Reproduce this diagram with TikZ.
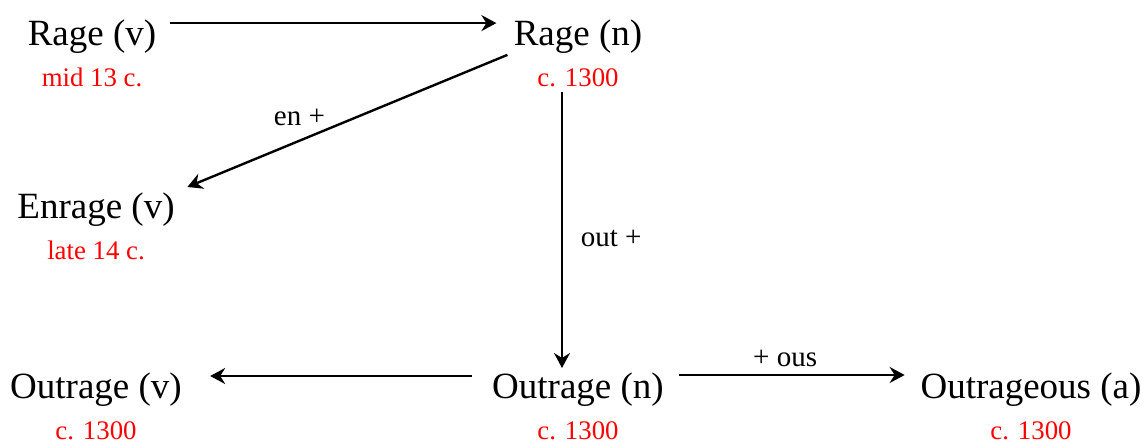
\documentclass[tikz,border=0pt]{standalone}
\usepackage{fontspec}
\setmainfont{Liberation Serif}
\usetikzlibrary{arrows.meta}
\tikzset{
  word/.style={anchor=base, inner sep=0pt, font=\fontsize{18.5}{20}\selectfont},
  datum/.style={anchor=base, inner sep=0pt, text=red, font=\fontsize{13.4}{15}\selectfont},
  affix/.style={font=\fontsize{14.5}{16}\selectfont},
  derive/.style={line width=1.2pt, -{Stealth[length=7.5pt,width=8pt,inset=2.5pt]}}
}
\begin{document}
\begin{tikzpicture}[x=0.5pt,y=-0.5pt]
    % Frame
    \useasboundingbox (0,0) rectangle (1146,442);
    
    % Words and dates
    \foreach \nm/\x/\y/\w/\d in {rv/92/45.7/Rage (v)/mid 13 c.,
                                 rn/578/45.7/Rage (n)/c. 1300,
                                 ev/96/219/Enrage (v)/late 14 c.,
                                 ov/96/399/Outrage (v)/c. 1300,
                                 on/578/399/Outrage (n)/c. 1300,
                                 oa/1031/399/Outrageous (a)/c. 1300}
    {
    \node[word] (\nm) at (\x,\y) {\w};
    \node[datum] (\nm d) at (\x,\y+40.5) {\d};
    }
    
    % Arrows
    \draw[derive] ([xshift=6.5pt,yshift=11.3pt]rv.base east) -- ([xshift=-8.5pt,yshift=11.3pt]rn.base west);
    \draw[derive] ([xshift=-3pt,yshift=-4.6pt]rn.base west) -- node[affix, pos=0.65, above=3.5pt] {en +} ([xshift=6.2pt,yshift=16pt]ev.base east);
    \draw[derive] ([xshift=-8pt,yshift=-3pt]rnd.base) -- node[affix, pos=0.53, right=5.5pt] {out +} ([xshift=-8pt,yshift=15.5pt]on.base);
    \draw[derive] ([xshift=-10pt,yshift=11.5pt]on.base west) -- ([xshift=14pt,yshift=11.5pt]ov.base east);
    \draw[derive] ([xshift=7.5pt,yshift=12pt]on.base east) -- node[affix, pos=0.47, above] {+ ous} ([xshift=-7.75pt,yshift=12pt]oa.base west);
    \end{tikzpicture}
\end{document}
